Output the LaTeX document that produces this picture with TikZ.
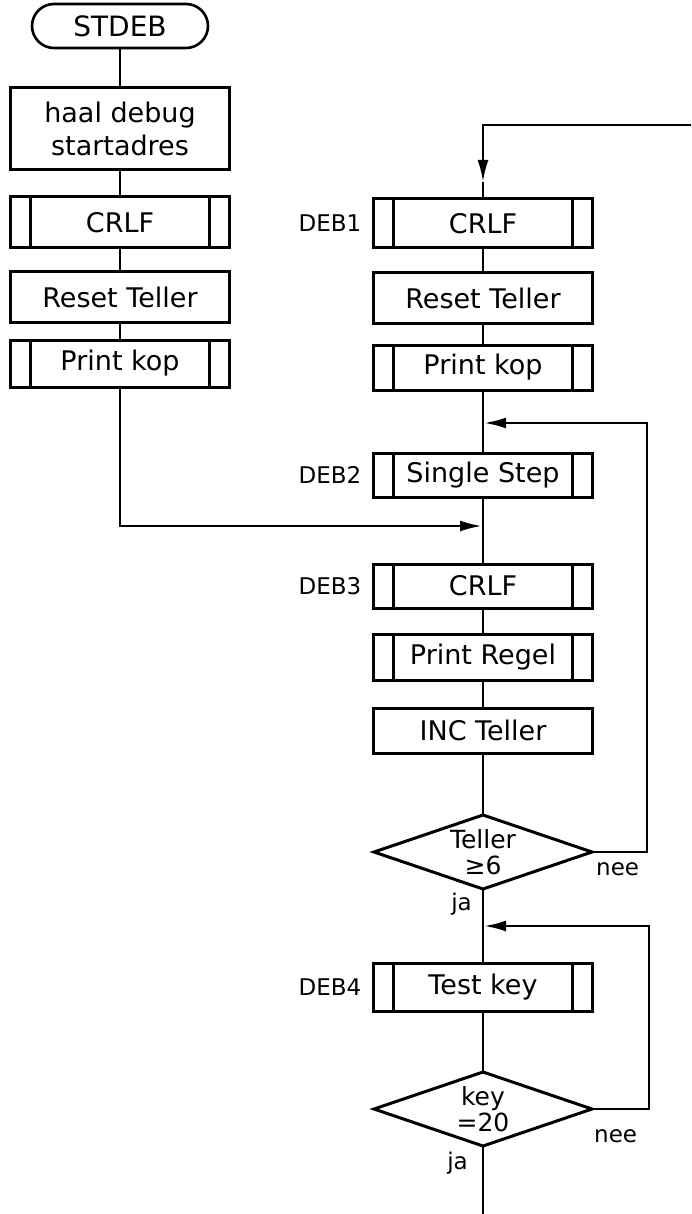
\documentclass[tikz,border=0pt]{standalone}
\usepackage{fontspec}
\setmainfont{DejaVu Sans}
\usetikzlibrary{positioning,arrows.meta,shapes.geometric}

\begin{document}
\begin{tikzpicture}[
  x=1pt, y=-1pt,
  node distance=24pt,
  proc/.style={draw, rectangle, line width=3pt, outer sep=0pt, minimum width=219pt, minimum height=48pt, align=center, inner sep=3pt, font=\fontsize{27}{33}\selectfont},
  subr/.style={proc, path picture={
      \draw[line width=2.2pt] ([xshift=20pt]path picture bounding box.north west) -- ([xshift=20pt]path picture bounding box.south west);
      \draw[line width=2.2pt] ([xshift=-20pt]path picture bounding box.north east) -- ([xshift=-20pt]path picture bounding box.south east);}},
  term/.style={draw, rectangle, rounded corners=22pt, line width=2.6pt, outer sep=0pt, minimum width=176pt, minimum height=44pt, font=\fontsize{28}{32}\selectfont},
  dec/.style={draw, diamond, aspect=3, line width=3pt, outer sep=0pt, minimum width=218pt, minimum height=74pt, inner sep=-4pt, align=center, font=\fontsize{25}{26}\selectfont},
  tag/.style={font=\fontsize{23}{26}\selectfont, inner sep=2pt},
  flow/.style={line width=2.6pt},
  >={Latex[length=22pt,width=11pt]}
]
\useasboundingbox (0,0) rectangle (691,1214);
% left column
\node[term] (start) at (120,26) {STDEB};
\node[proc, minimum height=82pt, below=40pt of start] (haal) {haal debug\\startadres};
\node[subr, minimum height=51pt, below=27pt of haal] (crlfA) {CRLF};
\node[proc, minimum height=50pt, below=24pt of crlfA] (resetA) {Reset Teller};
\node[subr, minimum height=47pt, below=18pt of resetA] (kopA) {Print kop};
% right column
\node[subr, minimum height=49pt] (crlfB) at (483,223.5) {CRLF};
\node[proc, minimum height=50pt, below=25pt of crlfB] (resetB) {Reset Teller};
\node[subr, minimum height=45pt, below=22pt of resetB] (kopB) {Print kop};
\node[subr, minimum height=44pt, below=63pt of kopB] (step1) {Single Step};
\node[subr, minimum height=44pt, below=67pt of step1] (crlfC) {CRLF};
\node[subr, minimum height=46pt, below=26pt of crlfC] (regel) {Print Regel};
\node[proc, minimum height=45pt, below=28pt of regel] (inc) {INC Teller};
\node[dec, below=62pt of inc] (cnt) {Teller\\≥6};
\node[subr, minimum height=48pt, below=74pt of cnt] (key) {Test key};
\node[dec, below=61pt of key] (spc) {key\\=20};
% labels
\node[tag, left=10pt of crlfB] (l1) {DEB1};
\node[tag, left=10pt of step1] (l2) {DEB2};
\node[tag, left=10pt of crlfC] (l3) {DEB3};
\node[tag, left=10pt of key] (l4) {DEB4};
\node[tag, below right=8pt and 2pt of cnt.east] (nee1) {nee};
\node[tag, below left=2pt and 9pt of cnt.south] (ja1) {ja};
\node[tag, below right=18pt and 0pt of spc.east] (nee2) {nee};
\node[tag, below left=4pt and 13pt of spc.south] (ja2) {ja};
% junctions
\coordinate (top) at (691,125);
\coordinate (inB) at (483,182);
\coordinate (inC) at (484,423);
\coordinate (inA) at (482,526);
\coordinate (inD) at (484,926);
\coordinate (uit) at (483,1214);
% connectors
\draw[flow] (start) -- (haal);
\draw[flow] (haal) -- (crlfA);
\draw[flow] (crlfA) -- (resetA);
\draw[flow] (resetA) -- (kopA);
\draw[flow,->] (kopA) |- (inA);
\draw[flow,->] (top) -| (inB);
\draw[flow] (inB) -- (crlfB);
\draw[flow] (crlfB) -- (resetB);
\draw[flow] (resetB) -- (kopB);
\draw[flow] (kopB) -- (step1);
\draw[flow] (step1) -- (crlfC);
\draw[flow] (crlfC) -- (regel);
\draw[flow] (regel) -- (inc);
\draw[flow] (inc) -- (cnt);
\draw[flow,->] (cnt.east) -- ++(55,0) |- (inC);
\draw[flow] (cnt) -- (key);
\draw[flow] (key) -- (spc);
\draw[flow,->] (spc.east) -- ++(57,0) |- (inD);
\draw[flow] (spc) -- (uit);
\end{tikzpicture}
\end{document}
